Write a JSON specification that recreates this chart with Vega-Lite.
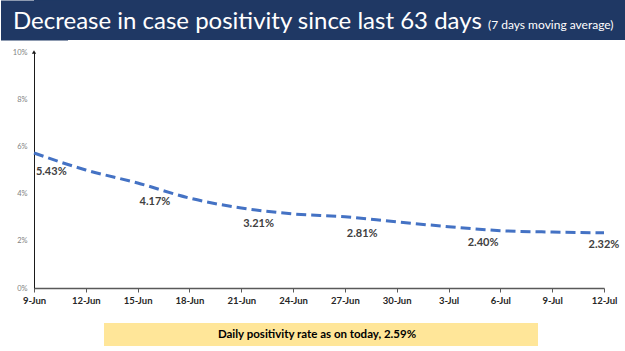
{
  "$schema": "https://vega.github.io/schema/vega-lite/v6.json",
  "padding": 0,
  "background": "white",
  "config": {"view": {"stroke": null}},
  "datasets": {
    "line": [
      {"date": "2021-06-09", "rate": 0.0572},
      {"date": "2021-06-12", "rate": 0.0500},
      {"date": "2021-06-15", "rate": 0.0445},
      {"date": "2021-06-18", "rate": 0.0381},
      {"date": "2021-06-21", "rate": 0.0339},
      {"date": "2021-06-24", "rate": 0.0314},
      {"date": "2021-06-27", "rate": 0.0302},
      {"date": "2021-06-30", "rate": 0.0280},
      {"date": "2021-07-03", "rate": 0.0260},
      {"date": "2021-07-06", "rate": 0.0243},
      {"date": "2021-07-09", "rate": 0.0237},
      {"date": "2021-07-12", "rate": 0.0234}
    ],
    "labels": [
      {"date": "2021-06-10", "rate": 0.0543},
      {"date": "2021-06-16", "rate": 0.0417},
      {"date": "2021-06-22", "rate": 0.0321},
      {"date": "2021-06-28", "rate": 0.0281},
      {"date": "2021-07-05", "rate": 0.0240},
      {"date": "2021-07-12", "rate": 0.0232}
    ]
  },
  "spacing": 8,
  "vconcat": [
    {
      "width": 591,
      "height": 40,
      "view": {"fill": "#1f3864", "stroke": null},
      "data": {"values": [{"title": "Decrease in case positivity since last 63 days", "note": "(7 days moving average)"}]},
      "encoding": {
        "y": {
          "datum": 0.5,
          "type": "quantitative",
          "scale": {"domain": [0, 1]},
          "axis": {"title": null, "labels": false, "ticks": false, "grid": false, "domain": true, "domainColor": "#1f3864", "domainWidth": 67, "minExtent": 0, "maxExtent": 0}
        }
      },
      "layer": [
        {
          "mark": {"type": "text", "align": "left", "baseline": "alphabetic", "dx": -316.5, "dy": 9, "font": "Lato", "fontSize": 24, "color": "white"},
          "encoding": {"text": {"field": "title"}}
        },
        {
          "mark": {"type": "text", "align": "left", "baseline": "alphabetic", "dx": 158.5, "dy": 9, "font": "Lato", "fontSize": 12, "color": "white"},
          "encoding": {"text": {"field": "note"}}
        }
      ]
    },
    {
      "spacing": 18,
      "vconcat": [
        {
          "width": 570,
          "height": 236,
          "encoding": {
            "x": {
              "field": "date",
              "type": "temporal",
              "scale": {"type": "utc", "domain": [{"year": 2021, "month": "Jun", "date": 9, "utc": true}, {"year": 2021, "month": "Jul", "date": 12, "utc": true}], "nice": false},
              "axis": {
                "title": null,
                "grid": false,
                "format": "%-d-%b",
                "values": [
                  {"year": 2021, "month": "Jun", "date": 9, "utc": true},
                  {"year": 2021, "month": "Jun", "date": 12, "utc": true},
                  {"year": 2021, "month": "Jun", "date": 15, "utc": true},
                  {"year": 2021, "month": "Jun", "date": 18, "utc": true},
                  {"year": 2021, "month": "Jun", "date": 21, "utc": true},
                  {"year": 2021, "month": "Jun", "date": 24, "utc": true},
                  {"year": 2021, "month": "Jun", "date": 27, "utc": true},
                  {"year": 2021, "month": "Jun", "date": 30, "utc": true},
                  {"year": 2021, "month": "Jul", "date": 3, "utc": true},
                  {"year": 2021, "month": "Jul", "date": 6, "utc": true},
                  {"year": 2021, "month": "Jul", "date": 9, "utc": true},
                  {"year": 2021, "month": "Jul", "date": 12, "utc": true}
                ],
                "domainColor": "#595959",
                "domainWidth": 1.5,
                "tickColor": "#595959",
                "tickSize": 4,
                "labelPadding": 3,
                "labelFont": "Lato",
                "labelFontWeight": "bold",
                "labelFontSize": 9.5,
                "labelColor": "#262626",
                "labelAngle": 0,
                "labelOverlap": false,
                "labelFlush": false
              }
            },
            "y": {
              "field": "rate",
              "type": "quantitative",
              "scale": {"domain": [0, 0.1], "nice": false},
              "axis": {
                "title": null,
                "grid": false,
                "ticks": false,
                "values": [0, 0.02, 0.04, 0.06, 0.08, 0.1],
                "format": ".0%",
                "domainColor": "#1a1a1a",
                "domainWidth": 1,
                "labelPadding": 7,
                "labelFont": "Lato",
                "labelFontSize": 7.5,
                "labelColor": "#7f7f7f",
                "minExtent": 34,
                "maxExtent": 34
              }
            }
          },
          "layer": [
            {
              "data": {"name": "line"},
              "mark": {"type": "line", "color": "#4472c4", "strokeWidth": 3, "strokeDash": [10, 5], "interpolate": "monotone"}
            },
            {
              "data": {"name": "labels"},
              "mark": {"type": "text", "dy": 12, "align": "center", "baseline": "middle", "font": "Lato", "fontWeight": "bold", "fontSize": 11, "color": "#404040"},
              "encoding": {"text": {"field": "rate", "type": "quantitative", "format": ".2%"}}
            },
            {
              "data": {"values": [{"date": "2021-06-09", "rate": 0.1}]},
              "mark": {"type": "point", "shape": "triangle-up", "filled": true, "size": 18, "color": "#1a1a1a", "opacity": 1}
            }
          ]
        },
        {
          "spacing": 0,
          "hconcat": [
            {
              "width": 70,
              "height": 23,
              "data": {"values": []},
              "mark": "point"
            },
            {
              "width": 434,
              "height": 23,
              "view": {"fill": "#ffe699", "stroke": null},
              "data": {"values": [{"msg": "Daily positivity rate as on today, 2.59%"}]},
              "mark": {"type": "text", "dx": -4, "font": "Lato", "fontWeight": "bold", "fontSize": 11.5, "color": "#000000", "baseline": "middle"},
              "encoding": {"text": {"field": "msg"}}
            }
          ]
        }
      ]
    }
  ]
}
